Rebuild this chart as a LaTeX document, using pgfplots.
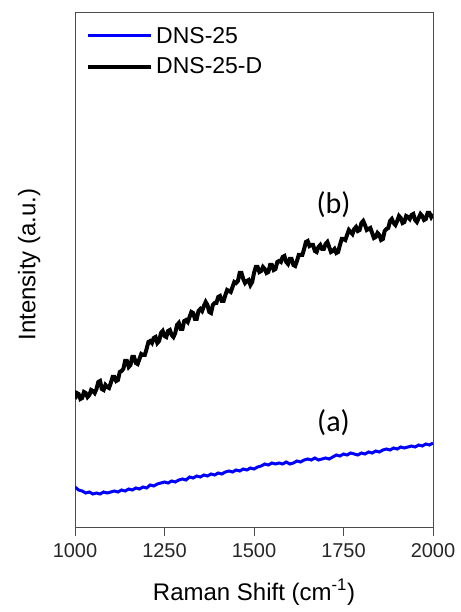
\documentclass[border=0pt]{standalone}
\usepackage{pgfplots}
\pgfplotsset{compat=1.18}
\usepackage{pgfplotstable}
\usepackage{fontspec}
\setmainfont{Liberation Sans}
\newfontfamily\labfont{Carlito}

\pgfplotstableread{
x y
1000 40
1010 37
1020 36
1030 34
1040 35
1050 33
1060 34
1070 33
1080 35
1090 34
1100 35
1110 36
1120 35
1130 37
1140 36
1150 38
1160 37
1170 39
1180 38
1190 40
1200 39
1210 42
1220 41
1230 43
1240 44
1250 45
1260 44
1270 46
1280 45
1290 47
1300 48
1310 47
1320 50
1330 49
1340 51
1350 50
1360 52
1370 51
1380 53
1390 52
1400 54
1410 53
1420 55
1430 56
1440 55
1450 57
1460 56
1470 58
1480 57
1490 59
1500 58
1510 60
1520 61
1530 63
1540 62
1550 64
1560 63
1570 64
1580 63
1590 65
1600 63
1610 64
1620 66
1630 65
1640 67
1650 68
1660 67
1670 69
1680 67
1690 68
1700 69
1710 68
1720 70
1730 72
1740 71
1750 73
1760 72
1770 74
1780 73
1790 72
1800 74
1810 73
1820 75
1830 74
1840 76
1850 75
1860 77
1870 78
1880 77
1890 79
1900 78
1910 80
1920 79
1930 80
1940 81
1950 80
1960 82
1970 81
1980 83
1990 82
2000 84
}\dataA

\pgfplotstableread{
x y
1000 128
1005 134
1010 133
1015 128
1020 129
1025 135
1030 134
1035 130
1040 132
1045 137
1050 136
1055 134
1060 138
1065 145
1070 146
1075 138
1080 137
1085 142
1090 140
1095 139
1100 144
1105 150
1110 150
1115 146
1120 147
1125 155
1130 156
1135 158
1140 166
1145 166
1150 160
1155 162
1160 170
1165 170
1170 164
1175 163
1180 168
1185 173
1190 172
1195 172
1200 178
1205 185
1210 186
1215 184
1220 189
1225 190
1230 184
1235 186
1240 194
1245 196
1250 191
1255 190
1260 196
1265 197
1270 192
1275 190
1280 194
1285 202
1290 204
1295 198
1300 198
1305 206
1310 207
1315 205
1320 210
1325 215
1330 214
1335 208
1340 208
1345 216
1350 218
1355 216
1360 221
1365 225
1370 222
1375 215
1380 214
1385 222
1390 224
1395 224
1400 230
1405 231
1410 226
1415 226
1420 232
1425 237
1430 236
1435 235
1440 240
1445 245
1450 244
1455 246
1460 254
1465 254
1470 248
1475 244
1480 246
1485 247
1490 242
1495 245
1500 254
1505 260
1510 260
1515 255
1520 256
1525 260
1530 258
1535 254
1540 255
1545 262
1550 262
1555 257
1560 258
1565 265
1570 266
1575 265
1580 270
1585 271
1590 265
1595 263
1600 268
1605 268
1610 262
1615 261
1620 266
1625 272
1630 272
1635 272
1640 278
1645 285
1650 286
1655 281
1660 282
1665 282
1670 276
1675 275
1680 280
1685 282
1690 278
1695 278
1700 283
1705 285
1710 280
1715 275
1720 276
1725 278
1730 274
1735 275
1740 282
1745 288
1750 288
1755 287
1760 292
1765 297
1770 295
1775 293
1780 298
1785 300
1790 296
1795 297
1800 304
1805 306
1810 302
1815 297
1820 298
1825 299
1830 294
1835 289
1840 290
1845 294
1850 292
1855 287
1860 288
1865 296
1870 298
1875 299
1880 306
1885 308
1890 304
1895 302
1900 306
1905 311
1910 309
1915 304
1920 305
1925 311
1930 310
1935 308
1940 312
1945 313
1950 307
1955 305
1960 309
1965 313
1970 311
1975 307
1980 308
1985 314
1990 314
1995 310
2000 313
}\dataB

\begin{document}
\begin{tikzpicture}[x=1pt,y=1pt]
\useasboundingbox (0,0) rectangle (460,612);
\begin{axis}[
  at={(75pt,85pt)}, anchor=south west,
  scale only axis, width=358pt, height=515pt,
  xmin=1000, xmax=2000, ymin=0, ymax=515,
  xtick={1000,1250,1500,1750,2000},
  ytick=\empty,
  axis line style={draw=black!70, line width=0.9pt},
  tick style={draw=black!70, line width=0.9pt},
  xtick pos=bottom, tick align=outside,
  major tick length=9pt,
  scaled x ticks=false,
  xticklabel style={/pgf/number format/1000 sep={}, font=\fontsize{20}{24}\selectfont, text=black!85, yshift=-4pt},
  /pgf/number format/assume math mode=true,
  xlabel={Raman Shift (cm\textsuperscript{-1})},
  xlabel style={font=\fontsize{24}{28}\selectfont, at={(axis description cs:0.5,0)}, anchor=base, yshift=-73pt},
  ylabel={Intensity (a.u.)},
  ylabel style={font=\fontsize{24}{28}\selectfont, at={(axis description cs:-0.128,0.51)}, anchor=center},
  legend style={draw=none, fill=none, at={(0,1)}, anchor=north west, font=\fontsize{23}{27}\selectfont,
    row sep=7pt, xshift=8pt, yshift=-10pt, /tikz/every even column/.append style={column sep=0pt}},
  legend cell align=left,
  legend image code/.code={\draw[#1] (0pt,0pt) -- (63pt,0pt);},
  legend style={nodes={inner sep=3pt}},
]
\addplot[blue, line width=3pt] table[x=x,y=y] {\dataA};
\addlegendentry{DNS-25}
\addplot[black, line width=4pt] table[x=x,y=y] {\dataB};
\addlegendentry{DNS-25-D}
\node[font=\labfont\fontsize{30}{34}\selectfont] at (axis cs:1722,322) {(b)};
\node[font=\labfont\fontsize{30}{34}\selectfont] at (axis cs:1722,104) {(a)};
\end{axis}
\end{tikzpicture}
\end{document}
